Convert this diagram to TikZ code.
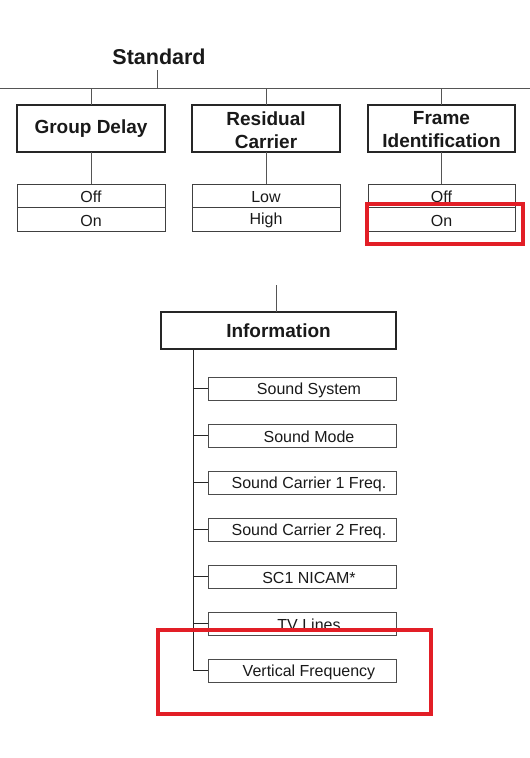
\documentclass[tikz,border=0pt]{standalone}
\usepackage{fontspec}
\setmainfont{Liberation Sans}
\definecolor{txt}{RGB}{25,25,25}
\definecolor{conn}{RGB}{85,85,85}
\definecolor{hl}{RGB}{226,30,38}
\begin{document}
\begin{tikzpicture}[x=1pt,y=-1pt,
  every node/.style={inner sep=0pt,outer sep=0pt,text=txt},
  title/.style={font=\fontsize{21.5}{24}\selectfont\bfseries},
  mainbox/.style={draw=black!85,line width=1.1pt,minimum height=47pt,align=center,
    font=\fontsize{19}{23}\selectfont\bfseries},
  mainlabel/.style={align=center,font=\fontsize{19}{23}\selectfont\bfseries},
  optbox/.style={draw=black!75,line width=0.8pt,minimum width=148pt,minimum height=23.5pt},
  optlabel/.style={font=\fontsize{16}{19}\selectfont},
  infobox/.style={draw=black!85,line width=1.1pt,minimum width=235pt,minimum height=37pt,
    font=\fontsize{19}{23}\selectfont\bfseries},
  subbox/.style={draw=black!70,line width=0.8pt,minimum width=188pt,minimum height=23pt},
  sublabel/.style={font=\fontsize{16}{19}\selectfont},
  link/.style={draw=conn,line width=1pt},
  highlight/.style={draw=hl,line width=4.5pt}]
\useasboundingbox (0,0) rectangle (530,758);

% ---------- Standard ----------
\node[title] (std) at (159,57) {Standard};
\coordinate (busL) at (0,88);
\coordinate (busR) at (530,88);
\coordinate (stdfoot) at (157,70);
\draw[link] (busL) -- (busR);
\draw[link] (stdfoot) -- (stdfoot |- busL);

\node[mainbox,minimum width=148pt] (gd) at (91,128.5) {};
\node[mainbox,minimum width=148pt] (rc) at (266,128.5) {};
\node[mainbox,minimum width=147pt] (fi) at (441.5,128.5) {};
\node[mainlabel] (gd-t) at (91,128.5) {Group Delay};
\node[mainlabel] (rc-t) at (266,130) {Residual\\Carrier};
\node[mainlabel] (fi-t) at (441.5,130) {Frame\\Identification};

\foreach \n in {gd,rc,fi}{
  \draw[link] (\n.north) -- (\n.north |- busL);
}

\node[optbox] (gdoff) at (91,195.75) {};
\node[optbox,anchor=north] (gdon) at (gdoff.south) {};
\node[optbox] (rclow) at (266,195.75) {};
\node[optbox,anchor=north] (rchigh) at (rclow.south) {};
\node[optbox,minimum width=147pt] (fioff) at (441.5,195.75) {};
\node[optbox,minimum width=147pt,anchor=north] (fion) at (fioff.south) {};
\node[optlabel] at ([yshift=-1.5pt]gdoff.center) {Off};
\node[optlabel] at ([yshift=-1.5pt]gdon.center) {On};
\node[optlabel] at ([yshift=-1.5pt]rclow.center) {Low};
\node[optlabel] at ([yshift=-1.5pt]rchigh.center) {High};
\node[optlabel] at ([yshift=-1.5pt]fioff.center) {Off};
\node[optlabel] at ([yshift=-1.5pt]fion.center) {On};

\draw[link] (gd.south) -- (gdoff.north);
\draw[link] (rc.south) -- (rclow.north);
\draw[link] (fi.south) -- (fioff.north);

% ---------- Information ----------
\coordinate (infotop) at (276,285);
\node[infobox] (info) at (278.5,330.5) {Information};
\draw[link] (infotop) -- (infotop |- info.north);

\coordinate (trunk) at (193,349);
\foreach \i/\name/\lab in {0/ss/Sound System,1/sm/Sound Mode,2/sc1/Sound Carrier 1 Freq.,
  3/sc2/Sound Carrier 2 Freq.,4/nic/SC1 NICAM*,5/tvl/TV Lines,6/vf/Vertical Frequency}{
  \node[subbox] (\name) at (302,388.5+47*\i) {};
  \node[sublabel] (\name-t) at (309,390+47*\i) {\lab};
  \draw[link,draw=black!85] (trunk |- \name.west) -- (\name.west);
}
\draw[link,draw=black!85] (trunk) |- (vf.west);

% ---------- highlights ----------
\draw[highlight] (367,204) rectangle (523,244);
\draw[highlight] (158,630) rectangle (431,714);
\end{tikzpicture}
\end{document}
